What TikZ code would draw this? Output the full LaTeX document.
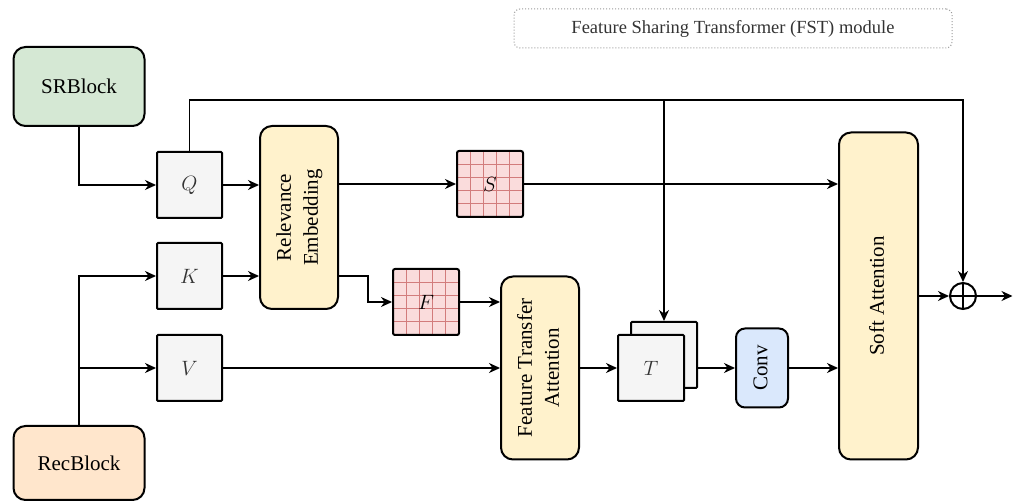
\documentclass[tikz,border=0pt]{standalone}
\usepackage{fontspec}
\setmainfont{Liberation Serif}
\usepackage{graphicx}
\usetikzlibrary{arrows.meta,calc}

\definecolor{srgreen}{HTML}{D5E8D4}
\definecolor{recorange}{HTML}{FFE6CC}
\definecolor{opyellow}{HTML}{FFF2CC}
\definecolor{convblue}{HTML}{DAE8FC}
\definecolor{qkvgray}{HTML}{F5F5F5}
\definecolor{mappink}{HTML}{FADCDC}
\definecolor{mapline}{HTML}{D27C7C}
\definecolor{textgray}{HTML}{333333}

\newcommand{\vtext}[1]{\rotatebox{90}{\begin{tabular}{@{}c@{}}#1\end{tabular}}}

\tikzset{
  block/.style={draw, line width=2pt, inner sep=0pt, rounded corners=12pt,
    font=\fontsize{21}{27}\selectfont},
  tensor/.style={draw, line width=2pt, inner sep=0pt, fill=qkvgray,
    minimum width=65pt, minimum height=66pt, rounded corners=1pt,
    font=\fontsize{22}{26}\selectfont, text=textgray},
  mapbox/.style={draw, line width=2pt, inner sep=0pt, fill=mappink,
    minimum width=66pt, minimum height=66pt, rounded corners=2pt,
    font=\fontsize{22}{26}\selectfont,
    path picture={
      \foreach \k in {1,...,4}{
        \draw[mapline, line width=0.8pt]
          ($(path picture bounding box.south west)!\k/5!(path picture bounding box.south east)$) --
          ($(path picture bounding box.north west)!\k/5!(path picture bounding box.north east)$);
        \draw[mapline, line width=0.8pt]
          ($(path picture bounding box.south west)!\k/5!(path picture bounding box.north west)$) --
          ($(path picture bounding box.south east)!\k/5!(path picture bounding box.north east)$);
      }}},
  sumnode/.style={draw, circle, line width=2pt, minimum size=26pt, inner sep=0pt,
    path picture={
      \draw[line width=1.8pt] (path picture bounding box.north) -- (path picture bounding box.south);
      \draw[line width=1.8pt] (path picture bounding box.west) -- (path picture bounding box.east);}},
  arr/.style={-{Stealth[length=11pt,width=10pt,inset=3.5pt]}, line width=1.3pt},
}

\begin{document}
\begin{tikzpicture}[x=1pt,y=-1pt]
\useasboundingbox (0,0) rectangle (1013,502);

% module title
\node[draw=gray!80, dotted, line width=1pt, rounded corners=6pt,
      minimum width=438pt, minimum height=39pt, inner sep=0pt,
      font=\fontsize{18.5}{22}\selectfont, text=textgray] (title) at (733,28.5)
      {Feature Sharing Transformer (FST) module};

% input blocks
\node[block, fill=srgreen, minimum width=131pt, minimum height=79pt] (sr) at (79,86.5) {SRBlock};
\node[block, fill=recorange, minimum width=131pt, minimum height=74pt] (rec) at (79,463) {RecBlock};

% query / key / value
\node[tensor] (q) at (189.5,185) {$Q$};
\node[tensor] (k) at (189.5,276) {$K$};
\node[tensor] (v) at (189.5,368) {$V$};

% relevance embedding and its outputs
\node[block, fill=opyellow, minimum width=78pt, minimum height=183pt] (re) at (299,217.5)
  {\vtext{Relevance\\Embedding}};
\node[mapbox] (s) at (490,184) {$S$};
\node[mapbox] (f) at (426,302) {$F$};

% feature transfer attention and transferred features
\node[block, fill=opyellow, minimum width=78pt, minimum height=183pt] (fta) at (540,368)
  {\vtext{Feature Transfer\\Attention}};
\node[tensor, minimum width=66pt] (tb) at (664,355) {};
\node[tensor, minimum width=66pt] (t) at (651,368) {$T$};

% conv, soft attention, sum
\node[block, fill=convblue, rounded corners=9pt, minimum width=52pt, minimum height=79pt] (conv) at (762,368)
  {\vtext{Conv}};
\node[block, fill=opyellow, minimum width=79pt, minimum height=327pt] (sa) at (878.5,296)
  {\vtext{Soft Attention}};
\node[sumnode] (sum) at (963,296) {};

% connectors
\draw[arr] (sr.south) |- (q.west);
\draw[arr] (rec.north) |- (k.west);
\coordinate (vj) at (rec.north |- v.west);
\draw[arr] (vj) -- (v.west);

\draw[arr] (q.east) -- (q.east -| re.west);
\draw[arr] (k.east) -- (k.east -| re.west);

\draw[arr] (re.east |- s.west) -- (s.west);
\draw[arr] (re.east |- k.east) -- ++(29,0) |- (f.west);

\draw[arr] (f.east) -- (f.east -| fta.west);
\draw[arr] (v.east) -- (v.east -| fta.west);
\draw[arr] (fta.east |- t.west) -- (t.west);

\coordinate (topr) at (sum.north |- 0,100);
\draw[arr] (q.north) |- (topr) -- (sum.north);
\coordinate (tj) at (tb.north |- topr);
\draw[arr] (tj) -- (tb.north);

\draw[arr] (t.east -| tb.east) -- (conv.west);
\draw[arr] (s.east) -- (s.east -| sa.west);
\draw[arr] (conv.east) -- (conv.east -| sa.west);
\draw[arr] (sa.east |- sum.west) -- (sum.west);

\coordinate (out) at (1012.5,296);
\draw[arr] (sum.east) -- (out);
\end{tikzpicture}
\end{document}
